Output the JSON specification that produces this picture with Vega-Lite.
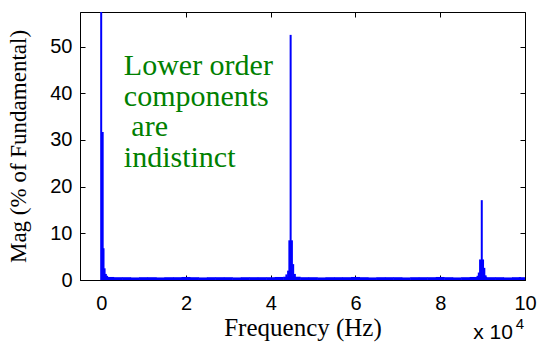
{
  "$schema": "https://vega.github.io/schema/vega-lite/v6.json",
  "width": 445,
  "height": 268,
  "autosize": {"type": "none"},
  "padding": {"left": 80, "top": 12, "right": 14, "bottom": 62},
  "background": "white",
  "config": {
    "view": {"stroke": "black", "strokeWidth": 1},
    "axis": {"grid": false, "domainColor": "black", "tickColor": "black", "labelColor": "black", "titleColor": "black", "labelFont": "Liberation Sans", "titleFont": "Liberation Serif", "titleFontWeight": "normal", "labelFontSize": 20, "tickSize": -5, "labelFlush": false, "labelOverlap": false}
  },
  "datasets": {
    "peaks": [
      {"freq": 0, "mag": 100},
      {"freq": 350, "mag": 31.7},
      {"freq": 550, "mag": 6.8},
      {"freq": 800, "mag": 2.5},
      {"freq": 1100, "mag": 1.3},
      {"freq": 1400, "mag": 0.9},
      {"freq": 43700, "mag": 1.2},
      {"freq": 44100, "mag": 2.0},
      {"freq": 44400, "mag": 8.5},
      {"freq": 44700, "mag": 52.5},
      {"freq": 45000, "mag": 8.5},
      {"freq": 45300, "mag": 3.4},
      {"freq": 45700, "mag": 1.3},
      {"freq": 88800, "mag": 0.9},
      {"freq": 89100, "mag": 1.6},
      {"freq": 89400, "mag": 4.4},
      {"freq": 89800, "mag": 17.1},
      {"freq": 90100, "mag": 4.4},
      {"freq": 90400, "mag": 2.6},
      {"freq": 90700, "mag": 1.0}
    ],
    "floor": [
      {"freq": 2000, "mag": 0.65}, {"freq": 4000, "mag": 0.6}, {"freq": 6000, "mag": 0.6}, {"freq": 8000, "mag": 0.55}, {"freq": 10000, "mag": 0.6},
      {"freq": 12000, "mag": 0.6}, {"freq": 14000, "mag": 0.55}, {"freq": 16000, "mag": 0.6}, {"freq": 18000, "mag": 0.6}, {"freq": 20000, "mag": 0.65},
      {"freq": 22000, "mag": 0.6}, {"freq": 24000, "mag": 0.55}, {"freq": 26000, "mag": 0.6}, {"freq": 28000, "mag": 0.6}, {"freq": 30000, "mag": 0.6},
      {"freq": 32000, "mag": 0.55}, {"freq": 34000, "mag": 0.6}, {"freq": 36000, "mag": 0.6}, {"freq": 38000, "mag": 0.6}, {"freq": 40000, "mag": 0.6},
      {"freq": 42000, "mag": 0.65}, {"freq": 44000, "mag": 0.7}, {"freq": 46000, "mag": 0.7}, {"freq": 48000, "mag": 0.6}, {"freq": 50000, "mag": 0.6},
      {"freq": 52000, "mag": 0.55}, {"freq": 54000, "mag": 0.6}, {"freq": 56000, "mag": 0.6}, {"freq": 58000, "mag": 0.6}, {"freq": 60000, "mag": 0.65},
      {"freq": 62000, "mag": 0.6}, {"freq": 64000, "mag": 0.55}, {"freq": 66000, "mag": 0.6}, {"freq": 68000, "mag": 0.6}, {"freq": 70000, "mag": 0.6},
      {"freq": 72000, "mag": 0.55}, {"freq": 74000, "mag": 0.6}, {"freq": 76000, "mag": 0.6}, {"freq": 78000, "mag": 0.6}, {"freq": 80000, "mag": 0.65},
      {"freq": 82000, "mag": 0.6}, {"freq": 84000, "mag": 0.55}, {"freq": 86000, "mag": 0.6}, {"freq": 88000, "mag": 0.65}, {"freq": 90000, "mag": 0.7},
      {"freq": 92000, "mag": 0.6}, {"freq": 94000, "mag": 0.6}, {"freq": 96000, "mag": 0.55}, {"freq": 98000, "mag": 0.6}, {"freq": 99600, "mag": 0.6}
    ]
  },
  "resolve": {"axis": {"x": "independent", "y": "independent"}},
  "layer": [
    {
      "data": {"name": "floor"},
      "mark": {"type": "rule", "color": "#0000FF", "strokeWidth": 9, "clip": true},
      "encoding": {
        "x": {"field": "freq", "type": "quantitative", "scale": {"domain": [-5000, 100000], "nice": false, "zero": false},
              "axis": {"orient": "top", "values": [0, 20000, 40000, 60000, 80000, 100000], "labels": false, "title": null, "domain": false}},
        "y": {"field": "mag", "type": "quantitative", "scale": {"domain": [0, 57.4], "nice": false},
              "axis": {"orient": "right", "values": [0, 10, 20, 30, 40, 50], "labels": false, "title": null, "domain": false}},
        "y2": {"datum": 0}
      }
    },
    {
      "data": {"name": "peaks"},
      "mark": {"type": "rule", "color": "#0000FF", "strokeWidth": 2, "clip": true},
      "encoding": {
        "x": {"field": "freq", "type": "quantitative",
              "axis": {"orient": "bottom", "values": [0, 20000, 40000, 60000, 80000, 100000], "labelExpr": "format(datum.value / 10000, 'd')", "labelPadding": 18, "title": "Frequency (Hz)", "titleFontSize": 25, "titleY": 55, "titleBaseline": "alphabetic"}},
        "y": {"field": "mag", "type": "quantitative",
              "axis": {"orient": "left", "values": [0, 10, 20, 30, 40, 50], "labelPadding": 13, "title": "Mag (% of Fundamental)", "titleFontSize": 23, "titleX": -55, "titleBaseline": "alphabetic"}},
        "y2": {"datum": 0}
      }
    },
    {
      "data": {"values": [{}]},
      "mark": {"type": "text", "color": "#008000", "font": "Liberation Serif", "fontSize": 30, "lineHeight": 30.5, "align": "left", "baseline": "alphabetic"},
      "encoding": {
        "x": {"datum": 5340, "type": "quantitative", "axis": null},
        "y": {"datum": 43.9, "type": "quantitative", "axis": null},
        "text": {"value": ["Lower order", "components", "\u200b\u00a0are", "indistinct"]}
      }
    },
    {
      "data": {"values": [{}]},
      "mark": {"type": "text", "color": "black", "font": "Liberation Sans", "fontSize": 21, "align": "left", "baseline": "alphabetic", "clip": false},
      "encoding": {
        "x": {"datum": 87760, "type": "quantitative", "axis": null},
        "y": {"datum": -12.6, "type": "quantitative", "axis": null},
        "text": {"value": "x 10"}
      }
    },
    {
      "data": {"values": [{}]},
      "mark": {"type": "text", "color": "black", "font": "Liberation Sans", "fontSize": 15, "align": "left", "baseline": "alphabetic", "clip": false},
      "encoding": {
        "x": {"datum": 97800, "type": "quantitative", "axis": null},
        "y": {"datum": -10.6, "type": "quantitative", "axis": null},
        "text": {"value": "4"}
      }
    }
  ]
}
